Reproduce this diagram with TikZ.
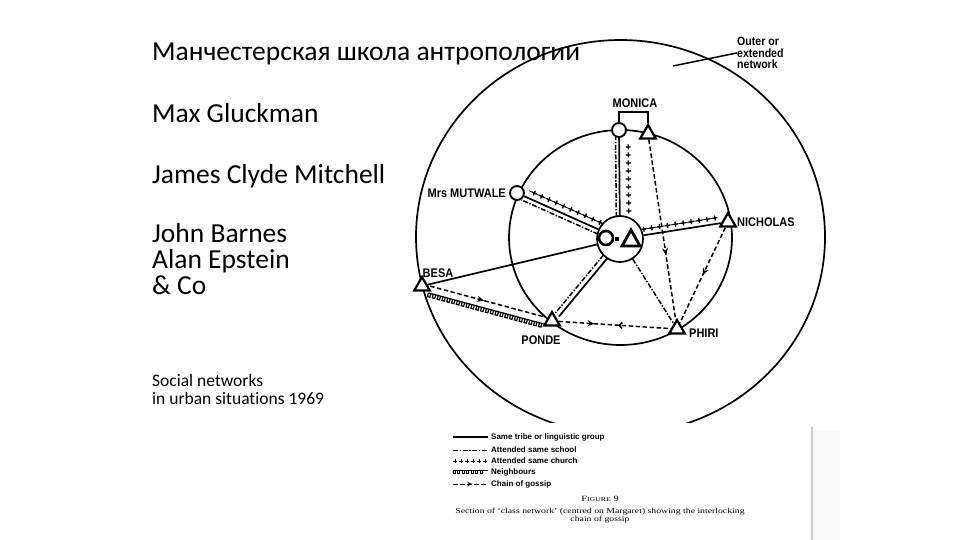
\documentclass[tikz,border=0pt]{standalone}
\usepackage{fontspec}
\setmainfont{Carlito}[Ligatures=NoCommon]
\newfontfamily\labfont{Liberation Sans}[FakeStretch=0.88]
\newfontfamily\legfont{Liberation Sans}
\newfontfamily\capfont[FakeStretch=1.3]{Liberation Serif}
\usetikzlibrary{calc,decorations.markings,shapes.geometric,arrows.meta}
% parallel link: style, from, to, offset, shorten at from, shorten at to
\newcommand{\lnk}[6]{\path[#1] ($(#2.center)!#5!(#3.center)!#4!90:(#3.center)$) -- ($(#3.center)!#6!(#2.center)!#4!-90:(#2.center)$);}
\tikzset{
  person/.style={circle,draw,line width=1.9pt,minimum size=14pt,inner sep=0pt,fill=white},
  man/.style={regular polygon,regular polygon sides=3,draw,line width=2.2pt,minimum size=18pt,inner sep=0pt,fill=white},
  lbl/.style={font=\labfont\bfseries\fontsize{12.5}{12.5}\selectfont,inner sep=0pt},
  tribe/.style={draw,line width=1.7pt},
  school/.style={draw,line width=1.5pt,dash pattern=on 5pt off 1.6pt on 1.4pt off 1.6pt},
  churchonly/.style={postaction={decorate,decoration={markings,mark=between positions 0 and 1 step 8pt with {\draw[line width=1.3pt,solid] (-2.5pt,0pt)--(2.5pt,0pt) (0pt,-2.5pt)--(0pt,2.5pt);}}}},
  church/.style={draw,line width=0.8pt,churchonly},
  nbr/.style={draw,line width=1.2pt,postaction={decorate,decoration={markings,mark=between positions 0 and 1 step 5pt with {\draw[line width=1.2pt] (0pt,0pt)--(0pt,-3.8pt)--(2.5pt,-3.8pt)--(2.5pt,0pt);}}}},
  gossip/.style={draw,line width=1.5pt,dash pattern=on 4.5pt off 2.5pt},
  garrow/.style={postaction={decorate,decoration={markings,mark=at position #1 with {\arrow{Stealth[length=7pt,width=6pt]}}}}},
  lefttext/.style={anchor=base west,inner sep=0pt,font=\fontsize{27.5}{27.5}\selectfont},
  legtext/.style={anchor=west,inner sep=0pt,font=\legfont\bfseries\fontsize{8}{8}\selectfont},
}
\begin{document}
\begin{tikzpicture}[x=1pt,y=-1pt]
\useasboundingbox (0,0) rectangle (960,540);
% ---------- left text ----------
\node[lefttext] (t1) at (152,61) {Манчестерская школа антропологии};
\node[lefttext] (t2) at (152,123) {Max Gluckman};
\node[lefttext] (t3) at (152,183) {James Clyde Mitchell};
\node[lefttext] (t4) at (152,242) {John Barnes};
\node[lefttext] (t5) at (152,268) {Alan Epstein};
\node[lefttext] (t6) at (152,294) {\& Co};
\node[lefttext,font=\fontsize{17.5}{17.5}\selectfont] (t7) at (152,386) {Social networks};
\node[lefttext,font=\fontsize{17.5}{17.5}\selectfont] (t8) at (152,404) {in urban situations 1969};
% ---------- circles ----------
\begin{scope}
\clip (400,0) rectangle (860,422);
\draw[line width=1.7pt] (620.5,237) ellipse [x radius=204.5pt, y radius=197pt];
\end{scope}
\draw[line width=1.7pt] (620.5,237.5) ellipse [x radius=111.5pt, y radius=107.5pt];
% ---------- nodes ----------
\node[circle,draw,line width=1.7pt,minimum size=46pt,inner sep=0pt,fill=white] (ego) at (620,239) {};
\node[person] (mC) at (619,130) {};
\node[man] (mT) at (648,134) {};
\node[person] (mut) at (517,193) {};
\node[man] (nic) at (728,222) {};
\node[man] (bes) at (422,286) {};
\node[man] (pon) at (552,321) {};
\node[man] (phi) at (677,329) {};
% ego glyphs
\draw[line width=2.6pt] (606,238) circle [radius=7pt];
\fill (614.5,236.5) rectangle (618.5,240.5);
\draw[line width=2.8pt,line join=miter] (622,246) -- (640,246) -- (631,230) -- cycle;
% ---------- labels ----------
\node[lbl] (lmon) at (635,103) {MONICA};
\node[lbl,anchor=east] (lmut) at (506,193) {Mrs MUTWALE};
\node[lbl,anchor=west] (lnic) at (737,222) {NICHOLAS};
\node[lbl] (lbes) at (438,273) {BESA};
\node[lbl] (lpon) at (541,340) {PONDE};
\node[lbl,anchor=west] (lphi) at (689,333) {PHIRI};
\node[lbl,anchor=north west,align=left,font=\labfont\bfseries\fontsize{12}{11.5}\selectfont] (outer) at (737,37) {Outer or\\extended\\network};
\coordinate (ptip) at (673,66);
\draw[line width=1.5pt] (ptip) -- (outer.west);
% Monica bracket
\draw[line width=1.5pt] (mC.north) -- ++(0,-10) -| (mT.north);
% ---------- links ----------
% ego - Monica
\draw[tribe] (ego) -- (mC);
\lnk{school}{ego}{mC}{3.5pt}{22pt}{6pt}
\lnk{churchonly}{ego}{mC}{-9pt}{28pt}{10pt}
% ego - Mutwale
\draw[tribe] (ego) -- (mut);
\lnk{school}{ego}{mut}{4.5pt}{22pt}{7pt}
\lnk{church}{ego}{mut}{-7pt}{25pt}{10pt}
% ego - Nicholas
\draw[tribe] (ego) -- (nic);
\lnk{church}{ego}{nic}{6pt}{25pt}{10pt}
% ego - Besa
\draw[tribe] (ego) -- (bes);
% ego - Ponde
\lnk{tribe}{ego}{pon}{2.5pt}{23pt}{8pt}
\lnk{school}{ego}{pon}{-2.5pt}{23pt}{8pt}
% ego - Phiri
\draw[school] (ego) -- (phi);
% gossip
\draw[gossip,garrow=0.64] (mT) -- (phi);
\draw[gossip,garrow=0.5] (nic) -- (phi);
\draw[gossip,postaction={decorate,decoration={markings,
  mark=at position 0.32 with {\arrow{Stealth[length=7pt,width=6pt]}},
  mark=at position 0.53 with {\arrowreversed{Straight Barb[length=3pt,width=6pt]}}}}] (pon) -- (phi);
\lnk{gossip,garrow=0.47}{bes}{pon}{2pt}{8pt}{8pt}
\lnk{nbr}{bes}{pon}{-5pt}{8pt}{7pt}
% ---------- legend ----------
\draw[line width=1.1pt] (453,437) -- (488,437);
\node[legtext] (g1) at (491,437) {Same tribe or linguistic group};
\draw[school,line width=1pt] (453,450) -- (488,450);
\node[legtext] (g2) at (491,450) {Attended same school};
\foreach \x in {455,461,...,486} \draw[line width=0.9pt] (\x-2,461) -- (\x+2,461) (\x,459) -- (\x,463);
\node[legtext] (g3) at (491,461) {Attended same church};
\draw[line width=0.9pt] (453,470.5) -- (488,470.5);
\foreach \x in {453,457.5,...,484} \draw[line width=0.9pt] (\x,470.5) -- (\x,473.5) -- (\x+2.2,473.5) -- (\x+2.2,470.5);
\node[legtext] (g4) at (491,472) {Neighbours};
\draw[gossip,line width=1pt,postaction={decorate,decoration={markings,mark=at position 0.55 with {\arrow{Stealth[length=5pt,width=4.5pt]}}}}] (453,484) -- (488,484);
\node[legtext] (g5) at (491,484) {Chain of gossip};
\node[font=\capfont\fontsize{8}{8}\selectfont,inner sep=0pt] (fig) at (600,499) {F{\fontsize{6}{6}\selectfont IGURE} 9};
\node[font=\capfont\fontsize{7.5}{7.8}\selectfont,align=center,inner sep=0pt] (cap) at (600,516) {Section of ‘class network’ (centred on Margaret) showing the interlocking\\chain of gossip};
% scan edge
\fill[gray!5] (812,430) rectangle (840,540);
\draw[gray!40,line width=1.2pt] (812,427) -- (812,540);
\end{tikzpicture}
\end{document}
